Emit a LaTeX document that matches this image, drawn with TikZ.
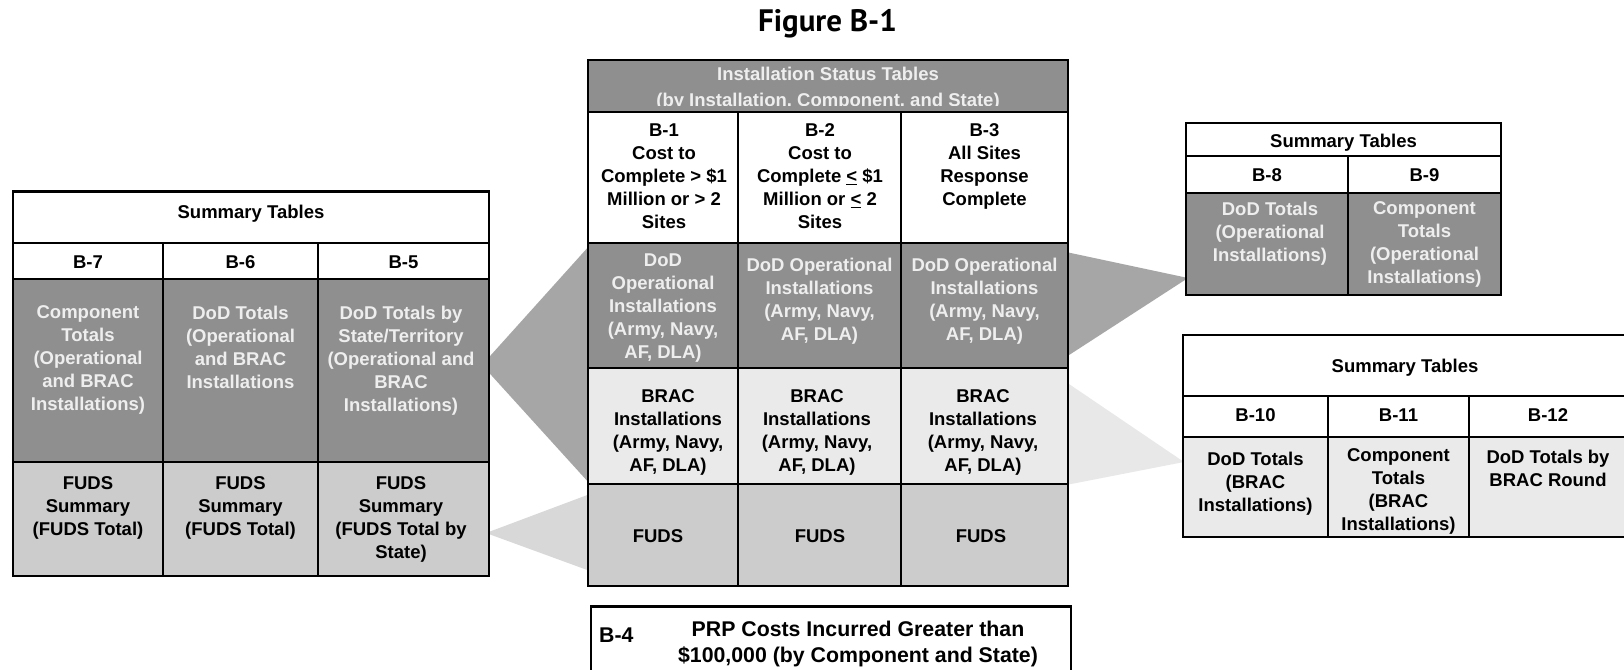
\documentclass[tikz,border=0pt]{standalone}
\usepackage{fontspec}
\setmainfont{Liberation Sans}
\newfontfamily\titlefont{PT Sans}
\definecolor{darkcell}{RGB}{143,143,143}
\definecolor{conndark}{RGB}{166,166,166}
\definecolor{connlightL}{RGB}{216,216,216}
\definecolor{connlightR}{RGB}{232,232,232}
\definecolor{bracfill}{RGB}{234,234,234}
\definecolor{fudsfill}{RGB}{204,204,204}
\definecolor{lighttxt}{RGB}{238,238,238}
\newcommand\cellr[5]{\path[cellbox, fill=#5] (#1,#2) rectangle (#3,#4);}
\begin{document}
\begin{tikzpicture}[x=1pt,y=-1pt,
  cellbox/.style={draw=black, line width=2.8pt},
  txt/.style={font=\bfseries\fontsize{18.5}{23}\selectfont, align=center, inner sep=0pt, text=black},
  ltxt/.style={txt, text=lighttxt},
  btxt/.style={font=\bfseries\fontsize{21.3}{25.7}\selectfont, align=center, inner sep=0pt, text=black}]
\clip (0,0) rectangle (1624,669);
\fill[white] (0,0) rectangle (1624,669);
% connectors
\coordinate (lda) at (482,365);
\coordinate (ldt) at (590,245);
\coordinate (ldb) at (590,484);
\coordinate (lla) at (486,533);
\coordinate (llt) at (590,494);
\coordinate (llb) at (590,571);
\coordinate (rdt) at (1066,252);
\coordinate (rdb) at (1066,357);
\coordinate (rda) at (1188,278);
\coordinate (rlt) at (1066,382);
\coordinate (rlb) at (1066,485);
\coordinate (rla) at (1184,462);
\fill[conndark] (lda) -- (ldt) -- (ldb) -- cycle;
\fill[connlightL] (lla) -- (llt) -- (llb) -- cycle;
\fill[conndark] (rdt) -- (rdb) -- (rda) -- cycle;
\fill[connlightR] (rlt) -- (rlb) -- (rla) -- cycle;
% left table
\cellr{13}{191.5}{489}{243}{white}
\cellr{13}{243}{163}{279}{white}
\cellr{163}{243}{318}{279}{white}
\cellr{318}{243}{489}{279}{white}
\cellr{13}{279}{163}{462}{darkcell}
\cellr{163}{279}{318}{462}{darkcell}
\cellr{318}{279}{489}{462}{darkcell}
\cellr{13}{462}{163}{576}{fudsfill}
\cellr{163}{462}{318}{576}{fudsfill}
\cellr{318}{462}{489}{576}{fudsfill}
\node[txt, anchor=base] (lhead) at (251,218) {Summary Tables};
\node[txt, anchor=base] (l7) at (88,268) {B-7};
\node[txt, anchor=base] (l6) at (240.5,268) {B-6};
\node[txt, anchor=base] (l5) at (403.5,268) {B-5};
\node[ltxt, anchor=north] (l7d) at (88,305.5) {Component\\Totals\\(Operational\\and BRAC\\Installations)};
\node[ltxt, anchor=north] (l6d) at (240.5,305.5) {DoD Totals\\(Operational\\and BRAC\\Installations};
\node[ltxt, anchor=north] (l5d) at (401,305.5) {DoD Totals by\\State/Territory\\(Operational and\\BRAC\\Installations)};
\node[txt, anchor=north] (l7f) at (88,476.5) {FUDS\\Summary\\(FUDS Total)};
\node[txt, anchor=north] (l6f) at (240.5,476.5) {FUDS\\Summary\\(FUDS Total)};
\node[txt, anchor=north] (l5f) at (401,476.5) {FUDS\\Summary\\(FUDS Total by\\State)};
% center table
\cellr{588}{60}{1068}{112}{darkcell}
\begin{scope}
\clip (590,62) rectangle (1066,105.8);
\node[ltxt, anchor=base] (chead1) at (828,80.7) {Installation Status Tables};
\node[ltxt, anchor=base] (chead2) at (828,106) {(by Installation, Component, and State)};
\end{scope}
\cellr{588}{112}{738}{243}{white}
\cellr{738}{112}{901}{243}{white}
\cellr{901}{112}{1068}{243}{white}
\cellr{588}{243}{738}{368}{darkcell}
\cellr{738}{243}{901}{368}{darkcell}
\cellr{901}{243}{1068}{368}{darkcell}
\cellr{588}{368}{738}{484}{bracfill}
\cellr{738}{368}{901}{484}{bracfill}
\cellr{901}{368}{1068}{484}{bracfill}
\cellr{588}{484}{738}{586}{fudsfill}
\cellr{738}{484}{901}{586}{fudsfill}
\cellr{901}{484}{1068}{586}{fudsfill}
\node[txt, anchor=north] (c1) at (664,123.5) {B-1\\Cost to\\Complete > \$1\\Million or > 2\\Sites};
\node[txt, anchor=north] (c2) at (820,123.5) {B-2\\Cost to\\Complete \underline{<} \$1\\Million or \underline{<} 2\\Sites};
\node[txt, anchor=north] (c3) at (984.5,123.5) {B-3\\All Sites\\Response\\Complete};
\node[ltxt, anchor=north] (c1d) at (663,253.5) {DoD\\Operational\\Installations\\(Army, Navy,\\AF, DLA)};
\node[ltxt, anchor=north] (c2d) at (819.5,258) {DoD Operational\\Installations\\(Army, Navy,\\AF, DLA)};
\node[ltxt, anchor=north] (c3d) at (984.5,258) {DoD Operational\\Installations\\(Army, Navy,\\AF, DLA)};
\node[txt, anchor=north] (c1b) at (668,389.3) {BRAC\\Installations\\(Army, Navy,\\AF, DLA)};
\node[txt, anchor=north] (c2b) at (817,389.3) {BRAC\\Installations\\(Army, Navy,\\AF, DLA)};
\node[txt, anchor=north] (c3b) at (983,389.3) {BRAC\\Installations\\(Army, Navy,\\AF, DLA)};
\node[txt, anchor=base] (c1f) at (658,542.7) {FUDS};
\node[txt, anchor=base] (c2f) at (820,542.7) {FUDS};
\node[txt, anchor=base] (c3f) at (981,542.7) {FUDS};
% B-4 box
\cellr{591}{606.5}{1071}{690}{white}
\node[btxt, anchor=base west] (b4) at (599,642.7) {B-4};
\node[btxt, anchor=north] (b4t) at (858,620.7) {PRP Costs Incurred Greater than\\\$100,000 (by Component and State)};
% top right table
\cellr{1186}{123}{1501}{156}{white}
\cellr{1186}{156}{1348}{193}{white}
\cellr{1348}{156}{1501}{193}{white}
\cellr{1186}{193}{1348}{295}{darkcell}
\cellr{1348}{193}{1501}{295}{darkcell}
\node[txt, anchor=base] (trhead) at (1343.5,147) {Summary Tables};
\node[txt, anchor=base] (t8) at (1267,181.7) {B-8};
\node[txt, anchor=base] (t9) at (1424.5,181.7) {B-9};
\node[ltxt, anchor=north] (t8d) at (1270,201.6) {DoD Totals\\(Operational\\Installations)};
\node[ltxt, anchor=north] (t9d) at (1424.5,201.6) {Component\\Totals\\(Operational\\Installations)};
% bottom right table
\cellr{1183}{335}{1627}{396}{white}
\cellr{1183}{396}{1328}{437}{white}
\cellr{1328}{396}{1469}{437}{white}
\cellr{1469}{396}{1627}{437}{white}
\cellr{1183}{437}{1328}{537}{bracfill}
\cellr{1328}{437}{1469}{537}{bracfill}
\cellr{1469}{437}{1627}{537}{bracfill}
\node[txt, anchor=base] (brhead) at (1405,372) {Summary Tables};
\node[txt, anchor=base] (b10) at (1255.5,421.7) {B-10};
\node[txt, anchor=base] (b11) at (1398.5,421.7) {B-11};
\node[txt, anchor=base] (b12) at (1548,421.7) {B-12};
\node[txt, anchor=north] (b10d) at (1255.5,451.6) {DoD Totals\\(BRAC\\Installations)};
\node[txt, anchor=north] (b11d) at (1398.5,448.3) {Component\\Totals\\(BRAC\\Installations)};
\node[txt, anchor=north] (b12d) at (1548,449.6) {DoD Totals by\\BRAC Round};
% title
\node[anchor=base, inner sep=0pt, font=\titlefont\bfseries\fontsize{31}{31}\selectfont] (title) at (827.5,31.7) {Figure B-1};
\end{tikzpicture}
\end{document}
